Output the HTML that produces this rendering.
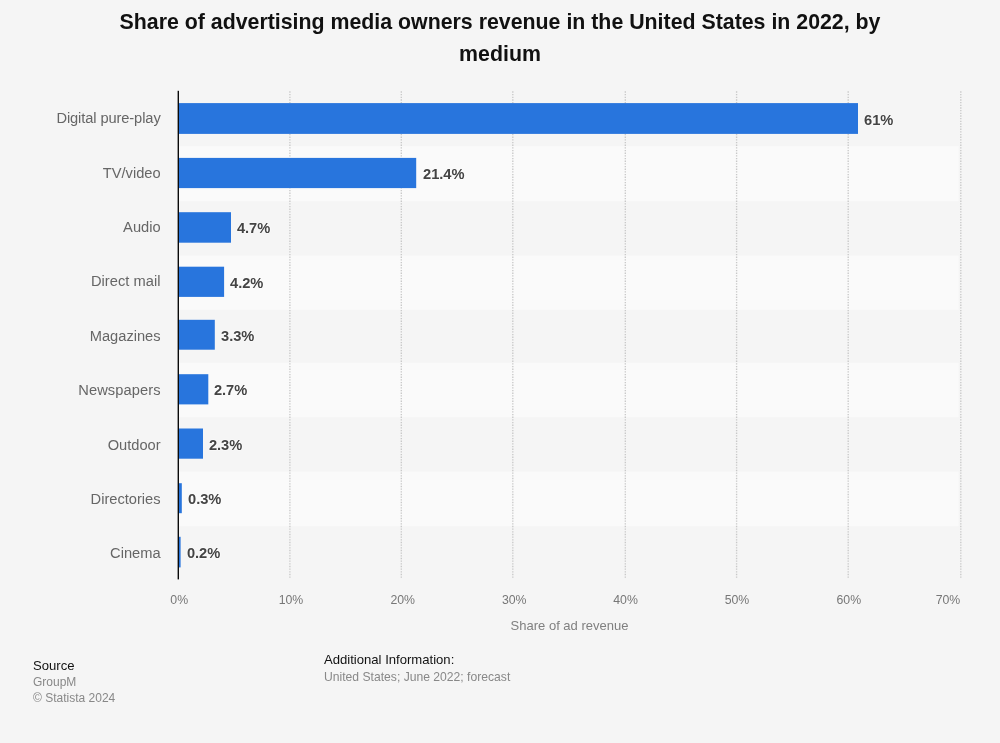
<!DOCTYPE html>
<html><head><meta charset="utf-8">
<style>
html,body{margin:0;padding:0;}
body{width:1000px;height:743px;background:#f5f5f5;position:relative;overflow:hidden;font-family:"Liberation Sans",Arial,sans-serif;}
.title{position:absolute;left:0;width:1000px;top:6.2px;text-align:center;font-weight:bold;font-size:21.33px;line-height:32px;color:#111;}
.cat{position:absolute;right:839.4px;font-size:14.67px;color:#666;white-space:nowrap;line-height:16px;}
.val{position:absolute;font-size:14.67px;font-weight:bold;color:#444;white-space:nowrap;line-height:16px;text-shadow:0 0 2px #fff,0 0 2px #fff;}
.tick{position:absolute;top:593px;font-size:12.3px;color:#777;line-height:14px;transform:translateX(-50%);white-space:nowrap;}
.xt{position:absolute;top:618.4px;left:569.5px;transform:translateX(-50%);font-size:13px;color:#808080;line-height:16px;white-space:nowrap;}
.f{position:absolute;font-size:12px;line-height:14px;white-space:nowrap;color:#888;}
.f.h{font-size:13.1px;line-height:16px;color:#111;}
</style></head><body>
<div class="title">Share of advertising media owners revenue in the United States in 2022, by<br>medium</div>

<svg style="position:absolute;left:0;top:0" width="1000" height="743" viewBox="0 0 1000 743">
<rect x="179" y="146.2" width="779.6" height="54.9" fill="#fafafa"/>
<rect x="179" y="255.6" width="779.6" height="54.2" fill="#fafafa"/>
<rect x="179" y="362.9" width="779.6" height="54.2" fill="#fafafa"/>
<rect x="179" y="471.6" width="779.6" height="54.5" fill="#fafafa"/>
<line x1="289.9" x2="289.9" y1="91.3" y2="578.6" stroke="#c8c8c8" stroke-width="1.333" stroke-dasharray="1.333 1.333"/>
<line x1="401.3" x2="401.3" y1="91.3" y2="578.6" stroke="#c8c8c8" stroke-width="1.333" stroke-dasharray="1.333 1.333"/>
<line x1="512.8" x2="512.8" y1="91.3" y2="578.6" stroke="#c8c8c8" stroke-width="1.333" stroke-dasharray="1.333 1.333"/>
<line x1="625.3" x2="625.3" y1="91.3" y2="578.6" stroke="#c8c8c8" stroke-width="1.333" stroke-dasharray="1.333 1.333"/>
<line x1="736.6" x2="736.6" y1="91.3" y2="578.6" stroke="#c8c8c8" stroke-width="1.333" stroke-dasharray="1.333 1.333"/>
<line x1="848.2" x2="848.2" y1="91.3" y2="578.6" stroke="#c8c8c8" stroke-width="1.333" stroke-dasharray="1.333 1.333"/>
<line x1="960.8" x2="960.8" y1="91.3" y2="578.6" stroke="#c8c8c8" stroke-width="1.333" stroke-dasharray="1.333 1.333"/>
<rect x="179" y="103.1" width="679.0" height="30.8" fill="#2875dd"/>
<rect x="179" y="157.9" width="237.2" height="30.2" fill="#2875dd"/>
<rect x="179" y="212.2" width="52.0" height="30.5" fill="#2875dd"/>
<rect x="179" y="266.7" width="45.1" height="30.2" fill="#2875dd"/>
<rect x="179" y="319.8" width="35.8" height="29.9" fill="#2875dd"/>
<rect x="179" y="374.2" width="29.3" height="30.2" fill="#2875dd"/>
<rect x="179" y="428.5" width="24.0" height="30.2" fill="#2875dd"/>
<rect x="179" y="483.2" width="2.8" height="30.0" fill="#2875dd"/>
<rect x="179" y="536.8" width="1.6" height="30.6" fill="#2875dd"/>
<rect x="177.6" y="90.8" width="1.4" height="488.6" fill="#0a0a0a"/>
</svg>
<div class="cat" style="top:109.9px;letter-spacing:-0.1px">Digital pure-play</div>
<div class="cat" style="top:164.8px">TV/video</div>
<div class="cat" style="top:218.8px">Audio</div>
<div class="cat" style="top:273.3px;letter-spacing:0.04px">Direct mail</div>
<div class="cat" style="top:328.4px">Magazines</div>
<div class="cat" style="top:382.0px;letter-spacing:0.09px">Newspapers</div>
<div class="cat" style="top:437.1px">Outdoor</div>
<div class="cat" style="top:491.0px">Directories</div>
<div class="cat" style="top:545.1px">Cinema</div>
<div class="val" style="top:112.1px;left:864.0px">61%</div>
<div class="val" style="top:166.1px;left:423.0px">21.4%</div>
<div class="val" style="top:220.2px;left:236.9px">4.7%</div>
<div class="val" style="top:274.8px;left:230.0px">4.2%</div>
<div class="val" style="top:328.2px;left:221.0px">3.3%</div>
<div class="val" style="top:382.0px;left:213.9px">2.7%</div>
<div class="val" style="top:436.9px;left:208.9px">2.3%</div>
<div class="val" style="top:491.0px;left:188.0px">0.3%</div>
<div class="val" style="top:545.1px;left:186.9px">0.2%</div>
<div class="tick" style="left:179.2px">0%</div>
<div class="tick" style="left:291px">10%</div>
<div class="tick" style="left:402.7px">20%</div>
<div class="tick" style="left:514.2px">30%</div>
<div class="tick" style="left:625.6px">40%</div>
<div class="tick" style="left:737px">50%</div>
<div class="tick" style="left:848.8px">60%</div>
<div class="tick" style="left:948px">70%</div>
<div class="xt">Share of ad revenue</div>
<div class="f h" style="left:33px;top:658px;">Source</div>
<div class="f" style="left:33px;top:675.4px;">GroupM</div>
<div class="f" style="left:33px;top:691px;">© Statista 2024</div>
<div class="f h" style="left:324px;top:652px;">Additional Information:</div>
<div class="f" style="left:324px;top:669.5px;font-size:12.15px">United States; June 2022; forecast</div>
</body></html>
